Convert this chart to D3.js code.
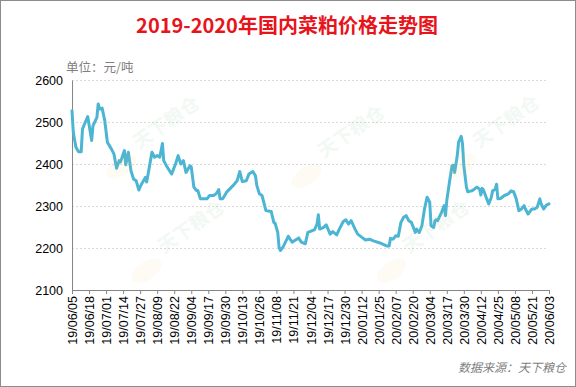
<!DOCTYPE html>
<html>
<head>
<meta charset="utf-8">
<script src="https://cdn.jsdelivr.net/npm/d3@7"></script>
<style>
  body { margin: 0; background: #fff; }
  svg { display: block; }
</style>
</head>
<body>
<div id="chart"></div>
<script>
// chart data
let dates = [
  "2019-06-05","2019-06-06","2019-06-08","2019-06-10","2019-06-12","2019-06-13","2019-06-14","2019-06-17",
  "2019-06-20","2019-06-21","2019-06-24","2019-06-25","2019-06-26","2019-06-28","2019-06-30","2019-07-02",
  "2019-07-05","2019-07-07","2019-07-09","2019-07-11","2019-07-12","2019-07-15","2019-07-16","2019-07-18",
  "2019-07-20","2019-07-22","2019-07-24","2019-07-26","2019-07-28","2019-07-31","2019-08-01","2019-08-03",
  "2019-08-05","2019-08-07","2019-08-09","2019-08-11","2019-08-13","2019-08-14","2019-08-16","2019-08-20",
  "2019-08-23","2019-08-25","2019-08-27","2019-08-29","2019-08-31","2019-09-03","2019-09-04","2019-09-06",
  "2019-09-08","2019-09-09","2019-09-11","2019-09-16","2019-09-18","2019-09-21","2019-09-23","2019-09-25",
  "2019-09-26","2019-09-28","2019-10-01","2019-10-06","2019-10-09","2019-10-11","2019-10-13","2019-10-16",
  "2019-10-18","2019-10-21","2019-10-23","2019-10-24","2019-10-26","2019-10-28","2019-10-31","2019-11-04",
  "2019-11-06","2019-11-07","2019-11-09","2019-11-10","2019-11-11","2019-11-13","2019-11-16","2019-11-17",
  "2019-11-20","2019-11-22","2019-11-25","2019-11-27","2019-11-30","2019-12-02","2019-12-05","2019-12-07",
  "2019-12-09","2019-12-10","2019-12-11","2019-12-14","2019-12-16","2019-12-19","2019-12-21","2019-12-24",
  "2019-12-26","2019-12-29","2019-12-31","2020-01-02","2020-01-04","2020-01-07","2020-01-09","2020-01-12",
  "2020-01-15","2020-01-18","2020-01-21","2020-01-26","2020-01-31","2020-02-02","2020-02-03","2020-02-05",
  "2020-02-07","2020-02-09","2020-02-11","2020-02-13","2020-02-15","2020-02-17","2020-02-19","2020-02-22",
  "2020-02-23","2020-02-25","2020-02-27","2020-02-29","2020-03-02","2020-03-04","2020-03-05","2020-03-07",
  "2020-03-08","2020-03-09","2020-03-10","2020-03-13","2020-03-15","2020-03-16","2020-03-17","2020-03-19",
  "2020-03-21","2020-03-22","2020-03-23","2020-03-25","2020-03-26","2020-03-28","2020-03-29","2020-03-30",
  "2020-04-01","2020-04-02","2020-04-05","2020-04-07","2020-04-09","2020-04-11","2020-04-12","2020-04-13",
  "2020-04-14","2020-04-16","2020-04-18","2020-04-20","2020-04-21","2020-04-23","2020-04-24","2020-04-25",
  "2020-04-27","2020-04-30","2020-05-03","2020-05-05","2020-05-07","2020-05-09","2020-05-11","2020-05-13",
  "2020-05-15","2020-05-16","2020-05-18","2020-05-21","2020-05-23","2020-05-25","2020-05-27","2020-05-28",
  "2020-05-30","2020-06-01","2020-06-03"
];

let prices = [
  2527,2475,2440,2429,2429,2483,2491,2513,
  2456,2491,2511,2543,2531,2533,2503,2452,
  2436,2424,2390,2408,2405,2432,2398,2428,
  2384,2364,2360,2338,2352,2368,2357,2392,
  2428,2416,2420,2416,2449,2408,2396,2376,
  2400,2420,2400,2408,2380,2396,2393,2345,
  2337,2337,2317,2317,2325,2325,2329,2339,
  2317,2317,2333,2349,2360,2382,2358,2360,
  2376,2382,2372,2349,2329,2325,2289,2287,
  2261,2259,2237,2202,2194,2202,2221,2228,
  2214,2218,2224,2214,2210,2237,2241,2243,
  2257,2279,2245,2249,2255,2233,2239,2231,
  2245,2263,2267,2257,2265,2245,2233,2226,
  2219,2221,2217,2212,2205,2205,2223,2221,
  2229,2228,2261,2273,2277,2265,2261,2237,
  2245,2237,2253,2293,2321,2309,2253,2249,
  2265,2267,2265,2285,2301,2277,2313,2356,
  2396,2397,2380,2420,2452,2466,2448,2396,
  2345,2334,2336,2340,2345,2340,2326,2342,
  2338,2321,2305,2321,2336,2340,2352,2317,
  2318,2325,2329,2336,2334,2317,2289,2293,
  2301,2293,2281,2293,2293,2297,2317,2305,
  2293,2302,2305
];

let tickLabels = [
  "19/06/05","19/06/18","19/07/01","19/07/14","19/07/27","19/08/09","19/08/22","19/09/04",
  "19/09/17","19/09/30","19/10/13","19/10/26","19/11/08","19/11/21","19/12/04","19/12/17",
  "19/12/30","20/01/12","20/01/25","20/02/07","20/02/20","20/03/04","20/03/17","20/03/30",
  "20/04/12","20/04/25","20/05/08","20/05/21","20/06/03"
];

let yTicks = [2100, 2200, 2300, 2400, 2500, 2600];

let titleText = "2019-2020年国内菜粕价格走势图";
let unitText = "单位：元/吨";
let sourceText = "数据来源：天下粮仓";

let svgWidth = 576;
let svgHeight = 387;

let margin = {
  top: 80,
  right: 27,
  bottom: 97,
  left: 72
};

let width = svgWidth - margin.left - margin.right;
let height = svgHeight - margin.top - margin.bottom;

let parseDay = d3.timeParse("%Y-%m-%d");
let parseTick = d3.timeParse("%y/%m/%d");

let data = dates.map((d, i) => ({ date: parseDay(d), price: prices[i] }));
let tickDates = tickLabels.map(parseTick);

let svg = d3.select("#chart")
  .append("svg")
  .attr("width", svgWidth)
  .attr("height", svgHeight);

// outer frame
svg.append("rect")
  .attr("x", 0.5)
  .attr("y", 0.5)
  .attr("width", svgWidth - 1)
  .attr("height", svgHeight - 1)
  .attr("fill", "#fff")
  .attr("stroke", "#8c8c8c");

let chartGroup = svg.append("g")
  .attr("transform", `translate(${margin.left}, ${margin.top})`);

let x = d3.scaleTime()
  .domain([tickDates[0], tickDates[tickDates.length - 1]])
  .range([0, width]);

let y = d3.scaleLinear()
  .domain([2100, 2600])
  .range([height, 0]);

// dashed grid lines
chartGroup.append("g")
  .selectAll("line")
  .data(yTicks.slice(1))
  .enter()
  .append("line")
  .attr("x1", 0)
  .attr("x2", width - 2)
  .attr("y1", d => Math.round(y(d)) + 0.5)
  .attr("y2", d => Math.round(y(d)) + 0.5)
  .attr("stroke", "#d9d9d9")
  .attr("stroke-dasharray", "2,2");

// watermarks (very faint)
let marks = [[170, 128], [195, 232], [355, 137], [440, 232], [510, 127]];
let wm = svg.append("g").attr("pointer-events", "none");
marks.forEach(function(m) {
  let g = wm.append("g").attr("transform", `translate(${m[0]}, ${m[1]}) rotate(-35)`);
  g.append("ellipse")
    .attr("cx", -62)
    .attr("cy", 4)
    .attr("rx", 17)
    .attr("ry", 9)
    .attr("fill", "#f7c873")
    .attr("opacity", 0.08);
  g.append("text")
    .attr("text-anchor", "middle")
    .attr("font-family", "Noto Sans CJK SC")
    .attr("font-weight", "bold")
    .attr("font-size", "19px")
    .attr("fill", "#8fc79a")
    .attr("opacity", 0.11)
    .text("天下粮仓");
});

// y axis
let leftAxis = d3.axisLeft(y).tickValues(yTicks).tickSize(0).tickPadding(9).tickFormat(d3.format("d"));
let yAxis = chartGroup.append("g").call(leftAxis);
yAxis.select(".domain").attr("stroke", "#868686");
yAxis.selectAll("text")
  .attr("font-family", "Liberation Sans, Arial, sans-serif")
  .attr("font-size", "12.5px")
  .attr("fill", "#000");

// x axis
let bottomAxis = d3.axisBottom(x)
  .tickValues(tickDates)
  .tickSize(4)
  .tickFormat((d, i) => tickLabels[i]);
let xAxis = chartGroup.append("g")
  .attr("transform", `translate(0, ${height})`)
  .call(bottomAxis);
xAxis.select(".domain").attr("stroke", "#868686");
xAxis.selectAll(".tick line").attr("stroke", "#868686");
xAxis.selectAll("text")
  .attr("transform", "rotate(-90)")
  .attr("text-anchor", "end")
  .attr("x", -6)
  .attr("y", 0)
  .attr("dy", "0.36em")
  .attr("font-family", "Liberation Sans, Arial, sans-serif")
  .attr("font-size", "12.5px")
  .attr("fill", "#000");

// price line
let line = d3.line()
  .x(d => x(d.date))
  .y(d => y(d.price));

chartGroup.append("path")
  .datum(data)
  .attr("d", line)
  .attr("fill", "none")
  .attr("stroke", "#4bb5d3")
  .attr("stroke-width", 3)
  .attr("stroke-linejoin", "round")
  .attr("stroke-linecap", "round");

// title
svg.append("text")
  .attr("x", 287)
  .attr("y", 33)
  .attr("text-anchor", "middle")
  .attr("font-family", "Noto Sans CJK SC")
  .attr("font-weight", "bold")
  .attr("font-size", "20px")
  .attr("fill", "#e8141c")
  .text(titleText);

// unit
svg.append("text")
  .attr("x", 66)
  .attr("y", 72)
  .attr("font-family", "Noto Sans CJK SC")
  .attr("font-size", "12.5px")
  .attr("fill", "#7f7f7f")
  .text(unitText);

// source
svg.append("text")
  .attr("x", 566)
  .attr("y", 372)
  .attr("text-anchor", "end")
  .attr("font-family", "Noto Sans CJK SC")
  .attr("font-style", "italic")
  .attr("font-size", "12px")
  .attr("fill", "#7f7f7f")
  .text(sourceText);
</script>
</body>
</html>
